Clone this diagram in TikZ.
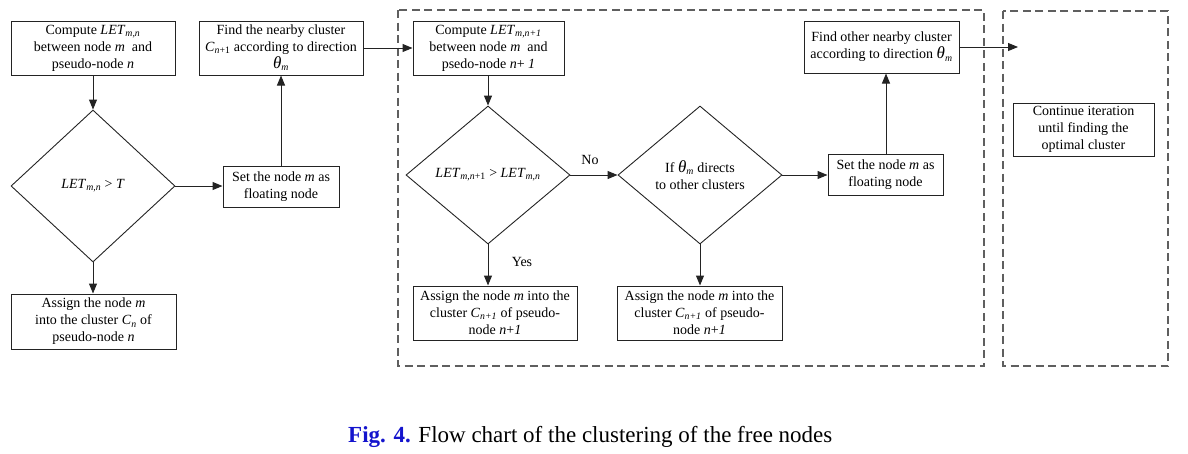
\documentclass[tikz,border=0pt]{standalone}
\usepackage{fontspec}
\setmainfont{Liberation Serif}
\usetikzlibrary{shapes.geometric,arrows.meta}
\definecolor{figblue}{RGB}{20,20,205}
\definecolor{dashgray}{RGB}{95,95,95}
\definecolor{linegray}{RGB}{35,35,35}
\newcommand\mysub[1]{\textsubscript{#1}}
\newcommand\bigth{{\fontsize{17}{17}\selectfont\textit{θ}}}
\begin{document}
\begin{tikzpicture}[x=1pt,y=-1pt,
  box/.style={draw=linegray, line width=1pt, align=center, inner sep=0pt,
    font=\fontsize{14}{17}\selectfont},
  dia/.style={draw=linegray, line width=0.9pt, shape=diamond, align=center, inner sep=0pt,
    minimum width=164pt, font=\fontsize{14}{17}\selectfont},
  arr/.style={-{Triangle[length=10pt,width=8pt]}, line width=1pt, draw=linegray},
  lbl/.style={font=\fontsize{14}{17}\selectfont, inner sep=0pt},
  dbox/.style={draw=dashgray, line width=1.1pt, dash pattern=on 8pt off 4.5pt}
]
\useasboundingbox (0,0) rectangle (1188,453);

% dashed frames
\draw[dbox] (398,10) rectangle (984,366);
\draw[dbox] (1003,11) rectangle (1168,366);

% left part
\node[box, minimum width=164pt, minimum height=54pt] (A) at (93,48)
  {Compute \textit{LET}\mysub{\textit{m,n}}\\between node \textit{m}\ \ and\\pseudo-node \textit{n}};
\node[dia, minimum height=152pt] (D1) at (93,186)
  {\textit{LET}\mysub{\textit{m,n}} {>} \textit{T}};
\node[box, minimum width=165pt, minimum height=55pt] (B) at (93.5,321.5)
  {Assign the node \textit{m}\\into the cluster \textit{C}\mysub{\textit{n}} of\\pseudo-node \textit{n}};
\node[box, minimum width=116pt, minimum height=41pt] (S1) at (281,186.5)
  {Set the node \textit{m} as\\floating node};
\node[box, minimum width=164pt, minimum height=54pt] (F1) at (281,48)
  {Find the nearby cluster\\\textit{C}\mysub{\textit{n}+1} according to direction\\\bigth\mysub{\textit{m}}};

% middle part
\node[box, minimum width=151pt, minimum height=54pt] (C2) at (488.5,48)
  {Compute \textit{LET}\mysub{\textit{m,n+1}}\\between node \textit{m}\ \ and\\psedo-node \textit{n}+ \textit{1}};
\node[dia, minimum height=138pt] (D2) at (488,175)
  {\textit{LET}\mysub{\textit{m,n}+1} {>} \textit{LET}\mysub{\textit{m,n}}};
\node[dia, minimum height=138pt] (D3) at (700,175)
  {If \bigth\mysub{\textit{m}} directs\\to other clusters};
\node[box, minimum width=164pt, minimum height=54pt] (A2) at (495,313)
  {Assign the node \textit{m} into the\\cluster \textit{C}\mysub{\textit{n+1}} of pseudo-\\node \textit{n}+\textit{1}};
\node[box, minimum width=165pt, minimum height=54pt] (A3) at (699.5,313)
  {Assign the node \textit{m} into the\\cluster \textit{C}\mysub{\textit{n+1}} of pseudo-\\node \textit{n}+\textit{1}};
\node[box, minimum width=115pt, minimum height=41pt] (S2) at (885.5,174.5)
  {Set the node \textit{m} as\\floating node};
\node[box, minimum width=155pt, minimum height=52pt] (F2) at (881.5,47)
  {Find other nearby cluster\\according to direction \bigth\mysub{\textit{m}}};

% right part
\node[box, minimum width=141pt, minimum height=53pt] (CI) at (1083.5,129.5)
  {Continue iteration\\until finding the\\optimal cluster};
\coordinate (out) at (1018,47);

% labels
\node[lbl] (no) at (590,160) {No};
\node[lbl] (yes) at (522,262) {Yes};

% connectors
\draw[arr] (A.south) -- (D1.north);
\draw[arr] (D1.south) -- (D1.south |- B.north);
\draw[arr] (D1.east) -- (D1.east -| S1.west);
\draw[arr] (S1.north) -- (F1.south);
\draw[arr] (F1.east) -- (F1.east -| C2.west);
\draw[arr] (C2.south -| D2.north) -- (D2.north);
\draw[arr] (D2.south) -- (D2.south |- A2.north);
\draw[arr] (D2.east) -- (D3.west);
\draw[arr] (D3.south) -- (D3.south |- A3.north);
\draw[arr] (D3.east) -- (D3.east -| S2.west);
\draw[arr] (S2.north -| 886,0) -- (886,0 |- F2.south);
\draw[arr] (F2.east) -- (out);

% caption
\node[anchor=base west, inner sep=0pt, font=\fontsize{23}{27}\selectfont] (cap) at (348,442)
  {\textcolor{figblue}{\textbf{Fig. 4.}} Flow chart of the clustering of the free nodes};
\end{tikzpicture}
\end{document}
